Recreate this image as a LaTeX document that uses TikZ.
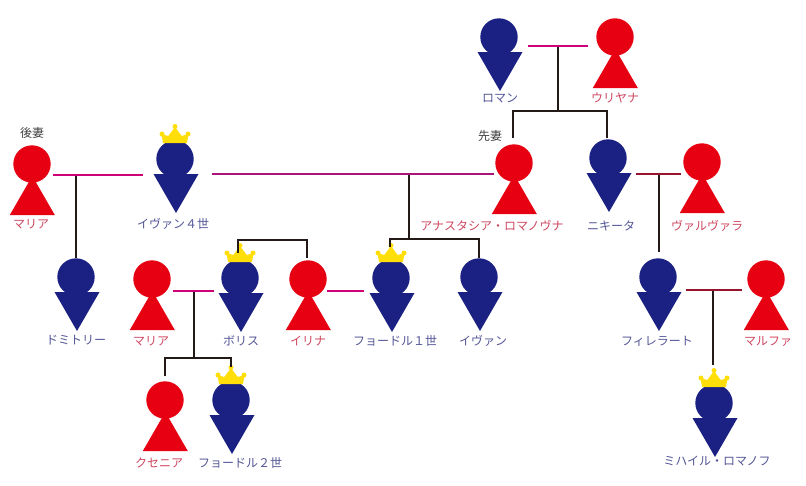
\documentclass[tikz,border=0pt]{standalone}
\usepackage{fontspec}
\setmainfont{Noto Sans CJK JP}
\definecolor{navy}{RGB}{27,33,131}
\definecolor{rd}{RGB}{230,0,18}
\definecolor{crownc}{RGB}{255,222,10}
\definecolor{mantext}{RGB}{84,86,150}
\definecolor{womantext}{RGB}{205,70,95}
\definecolor{pinkl}{RGB}{205,0,120}
\definecolor{purpl}{RGB}{170,20,120}
\definecolor{darkr}{RGB}{150,20,45}
\definecolor{blk}{RGB}{35,25,22}
\tikzset{
  headm/.style={circle,fill=navy,minimum size=37.4pt,inner sep=0pt},
  headw/.style={circle,fill=rd,minimum size=37.4pt,inner sep=0pt},
  mlabel/.style={text=mantext,font=\fontsize{12}{12}\selectfont,inner sep=0pt},
  wlabel/.style={text=womantext,font=\fontsize{12}{12}\selectfont,inner sep=0pt},
  klabel/.style={text=black!75,font=\fontsize{12}{12}\selectfont,inner sep=0pt},
  couple/.style={draw=pinkl,line width=2pt},
  coupleb/.style={draw=purpl,line width=2pt},
  coupled/.style={draw=darkr,line width=2pt},
  descent/.style={draw=blk,line width=2pt},
}
\newcommand{\manfig}[3]{%
  \fill[navy] (#2,#3) ++(-21.5,15) -- ++(45,0) -- ++(-22.5,39) -- cycle;
  \node[headm] (#1) at (#2,#3) {};}
\newcommand{\womanfig}[3]{%
  \fill[rd] (#2,#3) ++(0.3,12) -- ++(22.5,39) -- ++(-45,0) -- cycle;
  \node[headw] (#1) at (#2,#3) {};}
\newcommand{\crownfig}[1]{%
  \fill[crownc] (#1) ++(-12,-16) -- ++(-1.5,-9) -- ++(6.8,2) -- ++(6.7,-9) -- ++(6.7,9) -- ++(6.8,-2) -- ++(-1.5,9) -- cycle;
  \fill[crownc] (#1) ++(-13,-25) circle (2.5) (#1) ++(13,-25) circle (2.5) (#1) ++(0,-32.5) circle (2.5);}
\begin{document}
\begin{tikzpicture}[x=1pt,y=-1pt]
\useasboundingbox (0,0) rectangle (806,485);
% figures
\manfig{roman}{499}{37}
\womanfig{uliyana}{615}{37}
\womanfig{anastasia}{514}{163}
\manfig{nikita}{608}{158}
\womanfig{varvara}{702}{162}
\womanfig{maria}{32}{164}
\manfig{ivan}{175}{159}
\manfig{dmitri}{76}{277}
\womanfig{maria2}{152}{279}
\manfig{boris}{240}{278}
\womanfig{irina}{308}{279}
\manfig{fyodor}{391}{278}
\manfig{ivan2}{479}{277}
\manfig{filaret}{658}{277}
\womanfig{marfa}{766}{279}
\womanfig{ksenia}{165}{400}
\manfig{fyodorb}{231}{400}
\manfig{mikhail}{714}{403}
\crownfig{ivan}\crownfig{boris}\crownfig{fyodor}\crownfig{fyodorb}\crownfig{mikhail}
% labels
\node[mlabel] (lroman) at (500,98) {ロマン};
\node[wlabel] (luliyana) at (615,98) {ウリヤナ};
\node[klabel] (lsen) at (490,136) {先妻};
\node[klabel] (lgo) at (32,133) {後妻};
\node[wlabel] (lmaria) at (31,224) {マリア};
\node[mlabel] (livan) at (173,224) {イヴァン４世};
\node[wlabel] (lana) at (492,226) {アナスタシア・ロマノヴナ};
\node[mlabel] (lnikita) at (611,226) {ニキータ};
\node[wlabel] (lvarvara) at (707,226) {ヴァルヴァラ};
\node[mlabel] (ldmitri) at (76,340) {ドミトリー};
\node[wlabel] (lmaria2) at (151,341) {マリア};
\node[mlabel] (lboris) at (241,341) {ボリス};
\node[wlabel] (lirina) at (308,341) {イリナ};
\node[mlabel] (lfyodor) at (395,341) {フョードル１世};
\node[mlabel] (livan2) at (483,341) {イヴァン};
\node[mlabel] (lfilaret) at (657,341) {フィレラート};
\node[wlabel] (lmarfa) at (768,341) {マルファ};
\node[wlabel] (lksenia) at (159,463) {クセニア};
\node[mlabel] (lfyodorb) at (240,463) {フョードル２世};
\node[mlabel] (lmikhail) at (717,461) {ミハイル・ロマノフ};
% connector ends
\coordinate (cRa) at (528,46); \coordinate (cRb) at (588,46); \coordinate (jR) at (558,46);
\coordinate (tR) at (558,111); \coordinate (tRa) at (513,111); \coordinate (tRb) at (607,111);
\coordinate (eAna) at (513,138); \coordinate (eNik) at (607,138);
\coordinate (cMa) at (53,175); \coordinate (cMb) at (143,175); \coordinate (jM) at (76,175); \coordinate (eDm) at (76,258);
\coordinate (cIa) at (212,174); \coordinate (cIb) at (494,174); \coordinate (jI) at (409,174);
\coordinate (tI) at (409,239); \coordinate (tIa) at (390,239); \coordinate (tIb) at (479,239);
\coordinate (eFy) at (390,247); \coordinate (eIv) at (479,258);
\coordinate (tBa) at (238,240); \coordinate (tBb) at (307,240); \coordinate (eBo) at (238,253); \coordinate (eIr) at (307,258);
\coordinate (cBa) at (173,291); \coordinate (cBb) at (214,291); \coordinate (jB) at (194,291);
\coordinate (tB) at (194,358); \coordinate (tKa) at (165,358); \coordinate (tKb) at (231,358);
\coordinate (eKs) at (165,376); \coordinate (eFb) at (231,367);
\coordinate (cFa) at (327,291); \coordinate (cFb) at (364,291);
\coordinate (cNa) at (636,174); \coordinate (cNb) at (681,174); \coordinate (jN) at (659,174); \coordinate (eFi) at (659,252);
\coordinate (cLa) at (686,290); \coordinate (cLb) at (742,290); \coordinate (jL) at (713,290); \coordinate (eMi) at (713,365);
% connectors
\draw[descent] (jR) -- (tR); \draw[descent] (eAna) -- (tRa) -- (tRb) -- (eNik);
\draw[descent] (jM) -- (eDm);
\draw[descent] (jI) -- (tI); \draw[descent] (eFy) -- (tIa) -- (tIb) -- (eIv);
\draw[descent] (eBo) -- (tBa) -- (tBb) -- (eIr);
\draw[descent] (jB) -- (tB); \draw[descent] (eKs) -- (tKa) -- (tKb) -- (eFb);
\draw[descent] (jN) -- (eFi);
\draw[descent] (jL) -- (eMi);
\draw[couple] (cRa) -- (cRb);
\draw[couple] (cMa) -- (cMb);
\draw[coupleb] (cIa) -- (cIb);
\draw[couple] (cBa) -- (cBb);
\draw[couple] (cFa) -- (cFb);
\draw[coupled] (cNa) -- (cNb);
\draw[coupled] (cLa) -- (cLb);
\end{tikzpicture}
\end{document}
